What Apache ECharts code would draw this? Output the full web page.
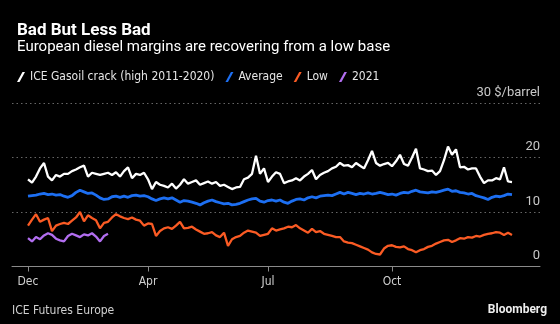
<!DOCTYPE html>
<html><head><meta charset="utf-8">
<script src="https://cdn.jsdelivr.net/npm/echarts@6/dist/echarts.min.js"></script>
<style>html,body{margin:0;padding:0;background:#000;}#c{width:560px;height:324px;}</style>
</head><body><div id="c"></div>
<script>
// x positions: one category per step; data begins at startIndex
const nCategories = 133;
const startIndex = 4;
const tickLabels = ['Dec', 'Apr', 'Jul', 'Oct'];
const tickIndex = [4, 34, 64, 95];
const yTicks = [0, 10, 20, 30];

const highVals = [16.0,15.4,16.5,18.0,19.0,16.5,15.8,16.8,16.5,17.0,17.0,17.5,17.8,18.2,18.5,16.5,17.2,17.0,16.8,17.0,
17.2,16.8,17.3,16.5,17.5,18.2,16.2,17.0,16.8,17.2,16.0,14.2,15.5,15.0,14.8,14.5,15.2,14.3,15.0,16.0,
15.2,15.5,15.8,15.0,15.3,15.6,15.2,15.5,14.8,15.0,14.6,14.2,14.5,14.6,16.0,16.3,17.0,20.3,17.0,18.0,
15.5,16.5,17.3,17.0,15.3,15.6,15.8,16.2,15.8,16.5,17.0,17.7,16.0,16.8,17.2,17.5,18.0,18.3,19.0,18.5,
18.6,18.2,19.0,18.5,18.0,19.5,21.2,19.0,18.5,18.8,19.0,18.4,19.3,20.5,18.8,18.5,20.0,21.6,18.0,17.8,
17.5,17.6,16.8,17.5,19.5,22.0,20.5,21.5,18.2,18.3,17.8,18.0,18.0,16.5,15.3,15.8,15.8,16.2,16.0,18.2,
15.6,15.5];
const avgVals = [12.9,13.0,13.1,13.3,13.4,13.2,13.3,13.1,13.2,12.9,12.7,13.0,13.6,14.0,13.7,13.4,13.5,13.1,12.6,12.3,
12.4,12.8,12.9,12.7,12.9,12.7,13.0,13.1,12.9,13.0,12.8,12.4,12.1,12.4,12.6,12.4,12.6,12.2,11.8,12.1,
12.0,11.8,11.6,11.3,11.7,12.0,12.2,11.9,11.7,11.5,11.6,11.3,11.4,11.6,11.9,12.2,12.4,12.5,12.0,11.8,
12.1,12.2,12.0,12.2,11.8,11.6,12.0,12.3,12.4,12.2,12.6,12.8,12.6,12.9,13.0,13.1,13.0,13.3,13.6,13.3,
13.6,13.4,13.2,13.4,13.3,13.5,13.3,13.4,13.6,13.4,13.2,13.3,13.1,13.4,13.6,13.5,13.8,14.0,13.7,13.6,
13.5,13.7,13.6,13.8,14.0,14.2,13.8,13.9,13.6,13.5,13.3,13.4,13.0,12.8,12.6,12.3,12.7,12.9,12.8,13.0,
13.3,13.2];
const lowVals = [7.5,8.6,9.6,8.2,8.6,8.9,6.5,7.5,7.8,8.0,7.8,8.4,9.0,10.0,8.3,9.4,8.9,8.5,7.0,8.0,
8.2,9.0,9.6,9.2,8.9,8.7,9.0,8.6,8.4,7.5,7.9,7.8,5.6,6.5,7.0,7.2,6.9,7.5,8.2,7.0,
7.1,7.3,6.8,6.4,6.0,6.1,6.3,5.7,5.4,6.2,3.8,5.0,5.4,5.6,6.2,6.6,6.4,6.2,5.6,5.8,
6.0,7.0,6.6,6.8,7.0,7.3,7.2,7.6,7.0,6.6,6.2,6.9,6.3,6.5,6.0,5.8,5.6,5.4,5.4,4.6,
4.4,4.3,4.0,3.7,3.4,3.1,2.6,2.3,2.2,3.3,3.8,3.9,3.6,3.5,3.7,3.2,3.0,2.6,3.0,3.2,
3.6,3.8,4.2,4.5,4.8,4.9,4.5,4.8,5.2,5.1,5.4,5.3,5.6,5.5,5.8,6.0,6.1,6.3,6.2,5.8,
6.2,5.8];
const y2021Vals = [5.2,4.6,5.4,5.0,5.7,6.1,5.8,5.1,4.8,4.6,5.6,6.0,5.7,5.4,5.9,5.7,6.1,5.5,4.6,5.6,6.0];

const seriesNames = ['ICE Gasoil crack (high 2011-2020)', 'Average', 'Low', '2021'];
const seriesColors = ['#ffffff', '#1d6ff2', '#fb5b24', '#b26ef0'];
const seriesVals = [highVals, avgVals, lowVals, y2021Vals];

const categories = Array.from({length: nCategories}, (_, i) => {
  const k = tickIndex.indexOf(i);
  return k >= 0 ? tickLabels[k] : String(i);
});
function pad(vals) {
  const out = new Array(nCategories).fill(null);
  vals.forEach((v, j) => { out[startIndex + j] = v; });
  return out;
}
const slash = 'path://M0,10 L5.5,0 L8,0 L2.5,10 Z';
const condensed = '"Liberation Sans Narrow", "DejaVu Sans Condensed", sans-serif';

const chart = echarts.init(document.getElementById('c'), null, {renderer: 'canvas'});
chart.setOption({
  backgroundColor: '#000',
  animation: false,
  title: [
    {text: 'Bad But Less Bad', left: 12, top: 17,
     textStyle: {color: '#fff', fontFamily: 'Roboto', fontWeight: 'bold', fontSize: 17}},
    {text: 'European diesel margins are recovering from a low base', left: 12, top: 35,
     textStyle: {color: '#fff', fontFamily: 'Roboto', fontWeight: 'normal', fontSize: 15}}
  ],
  legend: {
    left: 12, top: 66, itemWidth: 8, itemHeight: 10, itemGap: 11,
    textStyle: {color: '#e6e6e6', fontFamily: condensed, fontSize: 12},
    data: seriesNames.map((n, i) => ({name: n, icon: slash, itemStyle: {color: seriesColors[i]}}))
  },
  graphic: [
    {type: 'text', left: 12, top: 305, style: {text: 'ICE Futures Europe', fill: '#d0d0d0', font: '12px ' + condensed}},
    {type: 'text', right: 13, top: 304, style: {text: 'Bloomberg', fill: '#eee', font: 'bold 12px Roboto'}}
  ],
  grid: {left: 12, right: 20, top: 103, bottom: 57.5},
  xAxis: {
    type: 'category', data: categories, boundaryGap: false,
    axisLine: {lineStyle: {color: '#8a8a8a', width: 1}},
    axisTick: {length: 5, lineStyle: {color: '#8a8a8a'}, interval: (i) => tickIndex.includes(i)},
    axisLabel: {color: '#d0d0d0', fontFamily: condensed, fontSize: 12, margin: 9,
      interval: (i) => tickIndex.includes(i)},
    splitLine: {show: false}
  },
  yAxis: {
    type: 'value', position: 'right', min: yTicks[0], max: yTicks[yTicks.length - 1], interval: 10,
    axisLine: {show: false}, axisTick: {show: false},
    axisLabel: {inside: true, margin: 0, color: '#c8c8c8', fontFamily: 'Roboto', fontSize: 13,
      verticalAlign: 'bottom', padding: [0, 0, 4, 0],
      formatter: (v) => v === 30 ? '30 $/barrel' : String(v)},
    splitLine: {show: true, lineStyle: {color: '#666', type: [1.5, 3], width: 1}}
  },
  series: seriesVals.map((vals, i) => ({
    name: seriesNames[i], type: 'line', data: pad(vals), showSymbol: false, symbol: 'none',
    connectNulls: false, z: 10 - i,
    lineStyle: {color: seriesColors[i], width: i === 1 ? 2.8 : 2.3},
    itemStyle: {color: seriesColors[i]}
  }))
});
</script></body></html>
